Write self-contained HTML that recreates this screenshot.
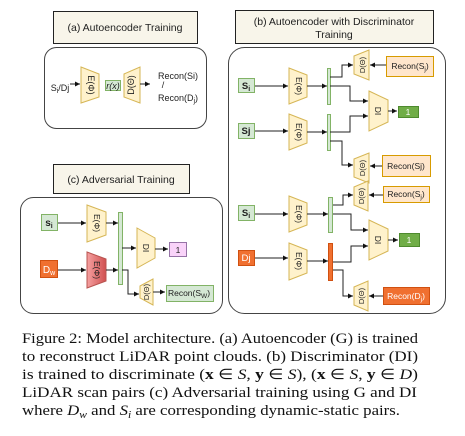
<!DOCTYPE html>
<html><head><meta charset="utf-8"><style>
html,body{margin:0;padding:0;background:#fff;}
svg{display:block;font-family:"Liberation Sans",sans-serif;}
.cap{font-family:"Liberation Serif",serif;font-size:14.6px;fill:#111;}
</style></head><body>
<svg width="465" height="436" viewBox="0 0 465 436" xmlns="http://www.w3.org/2000/svg">
<defs>
<marker id="a" markerWidth="6" markerHeight="6" refX="5" refY="3" orient="auto" markerUnits="userSpaceOnUse"><path d="M0,0.5 L5,3 L0,5.5z" fill="#111"/></marker>
</defs>
<g stroke="#333" stroke-width="1" fill="none">
<rect x="53.5" y="11.5" width="144" height="32" fill="#f8f5ea" stroke="#222"/>
<rect x="44.5" y="47.5" width="162" height="81" rx="12" stroke="#444"/>
<rect x="53.5" y="164.5" width="136" height="29" fill="#f8f5ea" stroke="#222"/>
<rect x="20.5" y="197.5" width="202" height="116" rx="13" stroke="#444"/>
<rect x="235.5" y="10.5" width="198" height="33" fill="#f8f5ea" stroke="#222"/>
<rect x="228.5" y="47.5" width="217" height="266" rx="16" stroke="#444"/>
</g>
<g font-size="10.5" fill="#222" text-anchor="middle">
<text x="125" y="31">(a) Autoencoder Training</text>
<text x="121" y="183">(c) Adversarial Training</text>
<text x="334" y="25">(b) Autoencoder with Discriminator</text>
<text x="334" y="38">Training</text>
</g>

<g stroke="#d6b656" stroke-width="1" fill="#fff2cc">
<path d="M81,67 L99,74 L99,97 L81,103z"/>
<path d="M124,74 L140,67 L140,103 L124,97z"/>
<path d="M87,205 L106,212 L106,235 L87,242z"/>
<path d="M137,228 L155,238 L155,258 L137,268z"/>
<path d="M140,286 L153,279 L153,305 L140,298z"/>
<path d="M289,68 L307,75 L307,97 L289,104z"/>
<path d="M354,56 L369,50 L369,80 L354,74z"/>
<path d="M369,91 L388,100 L388,122 L369,131z"/>
<path d="M289,114 L307,121 L307,143 L289,150z"/>
<path d="M354,159 L369,153 L369,183 L354,177z"/>
<path d="M289,196 L307,203 L307,225 L289,232z"/>
<path d="M354,187 L368,181 L368,211 L354,205z"/>
<path d="M369,220 L388,229 L388,251 L369,260z"/>
<path d="M289,243 L307,250 L307,273 L289,280z"/>
<path d="M354,287 L368,281 L368,311 L354,305z"/>
</g>
<defs><linearGradient id="rg" x1="0" x2="1"><stop offset="0" stop-color="#f5a0a0"/><stop offset="1" stop-color="#d05050"/></linearGradient></defs>
<path d="M87,252 L106,259 L106,281 L87,288z" fill="url(#rg)" stroke="#b85450"/>

<g stroke-width="1">
<rect x="105.5" y="80.5" width="15" height="10" fill="#d5e8d4" stroke="#82b366"/>
<rect x="41.5" y="214.5" width="16" height="16" fill="#d5e8d4" stroke="#82b366"/>
<rect x="118.5" y="212.5" width="4" height="72" fill="#d5e8d4" stroke="#82b366"/>
<rect x="169.5" y="242.5" width="17" height="14" fill="#f9d3f9" stroke="#9673a6"/>
<rect x="40.5" y="260.5" width="17" height="17" fill="#f07030" stroke="#d05010"/>
<rect x="166.5" y="285.5" width="47" height="16" fill="#d5e8d4" stroke="#82b366"/>

<rect x="238.5" y="78.5" width="16" height="14" fill="#d5e8d4" stroke="#82b366"/>
<rect x="327.5" y="68.5" width="3" height="36" fill="#d5e8d4" stroke="#82b366"/>
<rect x="386.5" y="56.5" width="47" height="20" fill="#ffe6cc" stroke="#d79b00"/>
<rect x="398.5" y="106.5" width="20" height="11" fill="#70ad47" stroke="#4e8a2e"/>
<rect x="238.5" y="123.5" width="16" height="15" fill="#d5e8d4" stroke="#82b366"/>
<rect x="327.5" y="114.5" width="3" height="36" fill="#d5e8d4" stroke="#82b366"/>
<rect x="382.5" y="155.5" width="48" height="21" fill="#ffe6cc" stroke="#d79b00"/>

<rect x="238.5" y="205.5" width="16" height="15" fill="#d5e8d4" stroke="#82b366"/>
<rect x="328.5" y="197.5" width="4" height="35" fill="#d5e8d4" stroke="#82b366"/>
<rect x="383.5" y="186.5" width="46" height="16" fill="#ffe6cc" stroke="#d79b00"/>
<rect x="399.5" y="233.5" width="20" height="13" fill="#70ad47" stroke="#4e8a2e"/>
<rect x="238.5" y="250.5" width="16" height="15" fill="#f07030" stroke="#d05010"/>
<rect x="328.5" y="243.5" width="4" height="37" fill="#f07030" stroke="#d05010"/>
<rect x="383.5" y="287.5" width="46" height="17" fill="#f07030" stroke="#d05010"/>
</g>

<g stroke="#222" stroke-width="1" fill="none" marker-end="url(#a)">
<path d="M70,84 H80"/>
<path d="M140,84 H150"/>
<path d="M58,223 H86"/>
<path d="M106,223 H118"/>
<path d="M122,248 H136"/>
<path d="M58,270 H86"/>
<path d="M106,270 H118"/>
<path d="M122,270 H128 V294 H139"/>
<path d="M153,292 H165"/>
<path d="M155,249 H168"/>

<path d="M255,86 H288"/>
<path d="M307,86 H327"/>
<path d="M330,77 H342 V65 H353"/>
<path d="M330,86 H350 V101 H368"/>
<path d="M388,111 H397"/>
<path d="M386,65 H370"/>
<path d="M255,131 H288"/>
<path d="M307,132 H327"/>
<path d="M330,132 H350 V116 H368"/>
<path d="M330,141 H342 V165 H353"/>
<path d="M382,166 H370"/>

<path d="M255,214 H288"/>
<path d="M307,214 H328"/>
<path d="M333,205 H343 V195 H353"/>
<path d="M333,214 H351 V230 H368"/>
<path d="M388,240 H398"/>
<path d="M383,195 H369"/>
<path d="M255,258 H288"/>
<path d="M307,261 H328"/>
<path d="M333,262 H351 V246 H368"/>
<path d="M333,270 H343 V296 H353"/>
<path d="M383,296 H369"/>
</g>

<g font-size="8.5" fill="#222" text-anchor="middle">
<text x="60" y="91" font-size="9">S<tspan font-size="7" dy="2">i</tspan><tspan dy="-2">/Dj</tspan></text>
<text transform="translate(88,85) rotate(90)" font-size="9">E(Φ)</text>
<text x="113" y="89" font-style="italic" font-size="9">r(x)</text>
<text transform="translate(134,85) rotate(-90)" font-size="9">D(Θ)</text>
<text x="178" y="79" font-size="9">Recon(Si)</text>
<text x="163" y="88" font-size="9">/</text>
<text x="178" y="101" font-size="9">Recon(D<tspan font-size="7" dy="2">j</tspan><tspan dy="-2">)</tspan></text>

<text x="49" y="226" font-size="10" font-weight="bold">s<tspan font-size="7" dy="2">i</tspan></text>
<text x="49" y="273" font-size="10" fill="#fff">D<tspan font-size="7" dy="2">w</tspan></text>
<text transform="translate(94,223) rotate(90)">E(Φ)</text>
<text transform="translate(94,270) rotate(90)">E(Φ)</text>
<text transform="translate(143,248) rotate(90)">DI</text>
<text x="178" y="253">1</text>
<text transform="translate(149,292) rotate(-90)" font-size="7.5">D(Θ)</text>
<text x="189" y="296">Recon(S<tspan font-size="6.5" dy="2">W</tspan><tspan dy="-2">)</tspan></text>

<text x="246" y="89" font-size="9.5" font-weight="bold">S<tspan font-size="7" dy="2">i</tspan></text>
<text x="246" y="134" font-size="9.5" font-weight="bold">Sj</text>
<text transform="translate(296,86) rotate(90)">E(Φ)</text>
<text transform="translate(296,132) rotate(90)">E(Φ)</text>
<text transform="translate(365,65) rotate(-90)" font-size="7.5">D(Θ)</text>
<text transform="translate(365,168) rotate(-90)" font-size="7.5">D(Θ)</text>
<text transform="translate(375,111) rotate(90)">DI</text>
<text x="410" y="69">Recon(S<tspan font-size="6.5" dy="2">j</tspan><tspan dy="-2">)</tspan></text>
<text x="406" y="169">Recon(Sj)</text>
<text x="408" y="115" fill="#fff">1</text>

<text x="246" y="216" font-size="9.5" font-weight="bold">S<tspan font-size="7" dy="2">i</tspan></text>
<text x="246" y="261" font-size="9.5" fill="#fff">Dj</text>
<text transform="translate(296,214) rotate(90)">E(Φ)</text>
<text transform="translate(296,261) rotate(90)">E(Φ)</text>
<text transform="translate(364,196) rotate(-90)" font-size="7.5">D(Θ)</text>
<text transform="translate(364,296) rotate(-90)" font-size="7.5">D(Θ)</text>
<text transform="translate(375,240) rotate(90)">DI</text>
<text x="406" y="197">Recon(S<tspan font-size="6.5" dy="2">j</tspan><tspan dy="-2">)</tspan></text>
<text x="406" y="299" fill="#fff">Recon(D<tspan font-size="6.5" dy="2">j</tspan><tspan dy="-2">)</tspan></text>
<text x="409" y="243" fill="#fff">1</text>
</g>

<g class="cap">
<text x="22" y="343" textLength="396" lengthAdjust="spacingAndGlyphs">Figure 2: Model architecture. (a) Autoencoder (G) is trained</text>
<text x="22" y="361" textLength="396" lengthAdjust="spacingAndGlyphs">to reconstruct LiDAR point clouds. (b) Discriminator (DI)</text>
<text x="22" y="379" textLength="396" lengthAdjust="spacingAndGlyphs">is trained to discriminate (<tspan font-weight="bold">x</tspan> ∈ <tspan font-style="italic">S</tspan>, <tspan font-weight="bold">y</tspan> ∈ <tspan font-style="italic">S</tspan>), (<tspan font-weight="bold">x</tspan> ∈ <tspan font-style="italic">S</tspan>, <tspan font-weight="bold">y</tspan> ∈ <tspan font-style="italic">D</tspan>)</text>
<text x="22" y="397" textLength="395" lengthAdjust="spacingAndGlyphs">LiDAR scan pairs (c) Adversarial training using G and DI</text>
<text x="22" y="415" textLength="378" lengthAdjust="spacingAndGlyphs">where <tspan font-style="italic">D</tspan><tspan font-style="italic" font-size="10" dy="3">w</tspan><tspan dy="-3"> and </tspan><tspan font-style="italic">S</tspan><tspan font-style="italic" font-size="10" dy="3">i</tspan><tspan dy="-3"> are corresponding dynamic-static pairs.</tspan></text>
</g>
</svg>
</body></html>
